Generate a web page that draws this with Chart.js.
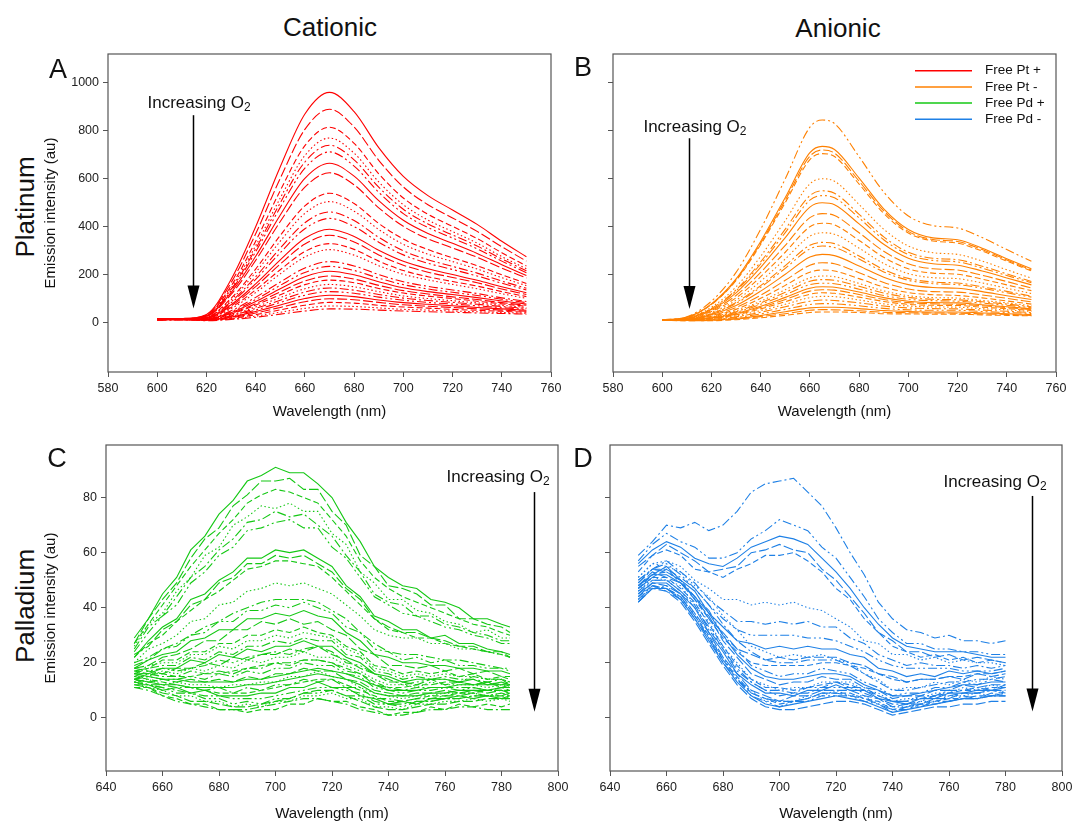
<!DOCTYPE html>
<html>
<head>
<meta charset="utf-8">
<script src="https://cdn.jsdelivr.net/npm/chart.js@4.4.1/dist/chart.umd.min.js"></script>
<style>
  html, body { margin: 0; padding: 0; background: #fff; width: 1072px; height: 825px; overflow: hidden; }
  #fig { position: relative; width: 1072px; height: 825px; font-family: "Liberation Sans", Arial, sans-serif; color: #111; }
  #fig canvas { position: absolute; }
  .lbl { position: absolute; white-space: nowrap; line-height: 1; transform: translate(-50%, -50%); }
  .rot { transform: translate(-50%, -50%) rotate(-90deg); }
</style>
</head>
<body>
<div id="fig">
  <div class="lbl" style="left:330px; top:27px; font-size:26px;">Cationic</div>
  <div class="lbl" style="left:838px; top:28px; font-size:26px;">Anionic</div>
  <div class="lbl rot" style="left:25px; top:207px; font-size:26px;">Platinum</div>
  <div class="lbl rot" style="left:25px; top:606px; font-size:26px;">Palladium</div>

  <canvas id="panelA" width="566" height="390" style="left:0px; top:40px;"></canvas>
  <canvas id="panelB" width="512" height="390" style="left:560px; top:40px;"></canvas>
  <canvas id="panelC" width="576" height="395" style="left:0px; top:430px;"></canvas>
  <canvas id="panelD" width="512" height="395" style="left:572px; top:430px;"></canvas>

  <div class="lbl" style="left:58px; top:69px; font-size:27px;">A</div>
  <div class="lbl" style="left:583px; top:67px; font-size:27px;">B</div>
  <div class="lbl" style="left:57px; top:458px; font-size:27px;">C</div>
  <div class="lbl" style="left:583px; top:458px; font-size:27px;">D</div>
</div>

<script>
// ---------- wavelengths (nm) ----------
const WL_PT_CATIONIC = [600,610,620,630,640,650,660,670,680,690,700,710,720,730,740,750];
const WL_PT_ANIONIC  = [600,610,620,630,640,650,660,665,670,680,690,700,710,720,730,740,750];
const WL_PD_CATIONIC = [650,655,660,665,670,675,680,685,690,695,700,705,710,715,720,725,730,735,740,745,750,755,760,765,770,775,780,783];
const WL_PD_ANIONIC  = [650,655,660,665,670,675,680,685,690,695,700,705,710,715,720,725,730,735,740,745,750,755,760,765,770,775,780];

// ---------- tick values ----------
const X_TICKS_PT = [580,600,620,640,660,680,700,720,740,760];
const X_TICKS_PD = [640,660,680,700,720,740,760,780,800];
const Y_TICKS_PT = [0,200,400,600,800,1000];
const Y_TICKS_PD = [0,20,40,60,80];

// ---------- legend ----------
const LEGEND_NAMES = ['Free Pt +', 'Free Pt -', 'Free Pd +', 'Free Pd -'];

// ---------- A: free Pt porphyrin, cationic (emission spectra, decreasing with O2) ----------
const PT_CATIONIC = [
  [17,18,35,180,400,650,870,960,880,730,610,530,470,410,340,275],
  [16,18,33,167,371,602,806,890,816,677,566,492,437,381,317,257],
  [18,17,31,153,340,551,738,815,748,621,520,452,402,351,292,237],
  [15,17,30,145,321,520,697,770,707,587,492,428,380,332,276,225],
  [16,17,29,139,308,500,670,740,679,565,473,412,366,320,266,217],
  [14,17,28,134,296,481,644,712,653,544,455,397,353,308,257,209],
  [17,16,27,126,277,449,602,665,611,509,427,372,331,289,242,197],
  [15,16,26,118,260,422,565,625,575,479,402,350,312,273,228,187],
  [16,16,23,102,224,364,487,540,497,414,349,305,271,238,200,164],
  [14,15,22,96,210,340,456,505,465,389,327,286,255,224,188,155],
  [17,15,21,88,192,311,417,462,426,356,300,263,235,207,174,144],
  [15,15,21,83,181,292,392,435,401,336,283,248,222,195,165,137],
  [13,15,19,75,162,262,352,390,360,302,256,225,201,177,150,125],
  [16,15,19,70,151,245,328,365,337,283,240,211,189,167,141,118],
  [14,15,18,64,137,221,297,330,306,257,218,192,172,153,130,109],
  [15,14,17,59,126,204,274,305,282,238,202,179,160,142,121,102],
  [13,14,16,50,106,170,228,255,237,201,171,152,137,122,104,89],
  [16,14,15,46,97,156,210,235,218,186,159,141,127,114,98,84],
  [14,14,15,42,89,142,192,215,200,171,146,130,118,105,91,78],
  [12,14,14,39,80,129,174,195,182,156,134,120,108,97,84,73],
  [15,14,14,36,74,117,159,178,167,143,124,111,101,90,79,69],
  [13,14,13,32,66,105,142,160,150,130,112,101,92,83,73,64],
  [14,14,13,29,60,94,128,145,136,118,103,93,85,77,68,60],
  [12,13,12,27,53,85,115,130,123,107,94,85,78,71,63,56],
  [15,13,12,24,47,74,101,115,109,95,84,77,71,64,58,52],
  [13,13,11,21,41,64,88,100,96,85,75,69,64,58,53,48],
  [11,13,11,18,34,54,73,85,82,73,66,61,56,52,48,44],
  [14,13,11,16,28,44,60,70,68,62,56,53,49,46,43,40],
  [12,12,9,14,23,36,49,58,57,53,49,46,44,41,39,36]
];

// ---------- B: free Pt porphyrin, anionic ----------
const PT_ANIONIC = [
  [12,25,90,210,390,600,815,845,830,692,545,445,405,395,355,305,256],
  [12,23,79,183,339,522,709,735,722,603,475,389,354,346,311,267,225],
  [12,23,77,179,332,511,694,720,707,590,466,381,347,339,305,262,220],
  [12,22,76,176,326,501,680,705,693,578,456,374,341,332,299,257,216],
  [11,20,65,150,277,426,579,600,590,493,390,320,292,285,257,221,186],
  [11,19,60,137,254,390,530,550,540,452,358,294,269,263,236,204,172],
  [11,19,58,133,245,376,511,530,521,437,346,284,260,254,228,197,167],
  [11,18,55,125,231,355,482,500,492,412,327,269,246,240,216,187,158],
  [11,17,51,114,210,323,438,455,447,375,298,246,225,220,198,172,145],
  [11,17,47,104,192,294,400,415,408,343,273,225,207,202,182,158,134],
  [11,16,43,94,173,266,361,375,369,311,247,205,188,184,166,144,122],
  [11,15,39,85,155,238,323,335,330,278,222,185,170,166,150,131,111],
  [11,15,37,81,148,227,308,320,314,266,212,177,163,159,144,125,107],
  [11,14,34,72,132,202,274,285,280,237,190,159,147,144,130,113,97],
  [11,13,30,64,115,177,240,250,246,209,168,141,130,128,116,102,87],
  [10,13,27,56,102,156,211,220,216,184,149,126,117,114,104,91,78],
  [10,12,24,50,90,138,187,195,192,164,133,113,105,103,93,83,71],
  [10,12,23,46,83,127,173,180,177,152,124,106,98,96,88,78,67],
  [10,12,21,43,77,117,159,165,163,140,114,98,92,90,82,73,63],
  [10,11,20,39,69,106,144,150,148,128,105,90,84,83,75,67,58],
  [10,11,19,36,64,97,132,138,136,118,97,84,79,77,71,63,55],
  [10,11,17,33,58,88,119,125,123,107,89,77,73,72,65,59,51],
  [10,11,16,29,51,77,105,110,109,95,79,70,66,65,59,54,47],
  [10,10,14,25,44,67,90,95,93,83,70,62,59,58,53,48,43],
  [10,10,13,22,37,56,76,80,79,71,60,54,52,52,47,43,39],
  [10,10,11,18,30,46,62,65,65,59,51,47,45,45,41,38,34],
  [10,9,10,16,26,38,52,55,54,50,44,42,41,40,37,35,31],
  [10,9,9,13,21,31,43,45,45,43,38,37,36,36,33,31,29]
];

// ---------- C: free Pd porphyrin, cationic ----------
const PD_CATIONIC = [
  [29,36,45,51,61,66,74,79,86,88,91,89,89,85,80,71,64,55,51,48,47,43,42,40,36,36,34,33],
  [27,36,43,49,58,65,69,77,81,86,86,87,83,83,75,70,59,55,48,47,45,41,41,36,36,34,33,31],
  [27,34,41,48,55,61,67,72,78,81,83,82,80,78,72,66,57,51,47,44,42,40,38,36,34,33,31,30],
  [26,34,38,46,51,59,62,70,73,77,76,78,75,75,67,63,53,49,43,43,39,38,35,34,31,32,29,29],
  [25,33,37,44,51,55,61,65,71,72,75,73,74,70,66,59,53,45,42,41,37,37,34,33,31,30,28,28],
  [24,31,37,41,49,53,59,62,68,69,71,72,69,69,62,58,51,44,41,38,37,35,33,32,30,29,27,27],
  [22,28,33,36,43,45,50,53,58,58,61,60,61,58,55,48,44,37,35,32,32,29,30,27,27,25,24,23],
  [23,26,32,35,41,43,49,51,56,56,59,58,59,56,53,47,43,36,33,31,31,29,28,26,26,24,24,22],
  [22,27,30,35,39,43,46,50,54,55,57,57,56,55,51,46,41,36,32,31,29,29,27,26,25,24,23,22],
  [20,25,27,30,35,36,41,42,46,47,49,48,49,47,45,41,37,32,30,29,29,27,27,25,25,24,23,22],
  [20,22,25,27,30,33,35,38,40,42,43,43,43,42,39,36,31,27,24,23,23,22,21,21,20,19,18,18],
  [19,21,25,26,30,31,35,35,39,39,41,40,42,40,38,33,31,25,24,21,22,20,21,19,19,18,18,17],
  [18,21,23,24,28,29,32,32,36,36,38,37,39,37,36,31,28,23,22,20,20,19,19,18,18,17,17,16],
  [18,19,22,23,25,28,28,32,32,35,34,36,34,35,32,30,25,23,19,19,18,19,17,18,16,17,15,15],
  [17,18,21,21,24,24,27,27,30,30,32,31,33,31,30,26,24,19,18,16,17,16,17,15,16,14,15,14],
  [16,19,20,20,23,23,26,25,28,28,30,29,31,30,29,25,23,18,17,15,16,15,16,15,15,14,14,13],
  [16,18,19,19,22,21,24,23,26,26,28,27,29,28,28,23,22,17,16,14,15,14,15,14,14,13,14,12],
  [18,17,18,17,18,19,21,20,22,23,24,23,25,26,24,20,19,16,14,12,13,14,14,13,15,14,14,13],
  [16,16,18,18,21,20,23,22,25,24,26,26,28,26,26,22,20,16,15,13,14,14,14,13,14,12,13,12],
  [15,17,16,18,18,20,19,22,21,23,23,25,24,26,23,21,18,16,13,13,12,14,12,13,12,13,11,12],
  [17,16,16,15,15,16,16,17,18,19,20,19,21,21,20,18,16,13,11,11,12,12,13,13,12,13,12,13],
  [15,15,17,16,18,17,19,18,21,20,22,22,24,22,22,19,17,14,12,12,11,13,12,12,12,11,12,11],
  [14,16,15,15,17,16,17,16,18,18,20,20,21,21,20,17,16,12,11,10,11,11,11,11,11,10,11,10],
  [14,15,14,14,15,14,16,15,17,16,18,18,20,19,19,16,15,11,10,9,10,10,11,10,11,10,10,9],
  [14,13,12,12,11,11,11,11,12,12,13,14,15,16,15,14,12,9,8,8,8,9,9,10,10,10,11,11],
  [14,13,14,13,14,13,14,13,15,14,16,16,18,17,17,14,13,10,9,8,9,9,10,9,10,9,10,9],
  [15,14,13,12,11,10,9,9,9,10,11,12,13,14,14,12,10,8,6,6,7,8,8,9,9,10,10,10],
  [13,14,12,13,12,12,11,12,12,13,13,15,15,17,15,14,11,9,8,7,8,8,9,9,9,8,9,8],
  [13,12,12,11,11,10,11,9,11,10,12,12,14,13,14,11,11,7,7,6,7,7,8,8,9,8,8,7],
  [13,12,11,10,9,8,8,7,7,7,8,9,10,11,11,10,9,6,5,5,6,6,7,7,8,8,8,9],
  [12,12,10,11,9,10,8,8,8,9,9,11,11,13,11,11,8,7,5,6,5,7,7,8,7,8,7,8],
  [12,11,9,8,6,6,5,4,4,5,6,7,9,10,10,8,6,4,3,3,4,5,5,6,6,7,7,7],
  [11,11,8,7,5,5,3,3,2,3,3,5,5,7,6,6,4,3,1,2,2,4,3,5,4,5,4,5],
  [13,11,10,8,8,6,6,4,5,4,6,6,8,8,9,7,7,4,4,3,5,5,6,6,7,6,7,6],
  [11,10,8,6,5,4,3,3,3,4,5,6,7,7,6,5,3,2,1,1,2,3,3,4,4,3,3,3],
  [14,12,11,9,9,7,7,5,6,5,7,7,9,9,10,8,8,5,5,4,6,6,7,7,8,8,9,8],
  [16,15,14,14,13,13,13,13,14,14,15,16,17,18,17,16,14,12,10,10,10,11,11,12,12,12,12,12]
];

// ---------- D: free Pd porphyrin, anionic ----------
const PD_ANIONIC = [
  [59,64,70,69,71,68,70,75,82,85,86,87,82,77,69,60,52,42,36,32,31,29,30,28,28,27,28],
  [57,63,67,64,62,58,58,60,65,68,72,70,68,62,58,51,44,36,31,27,27,25,25,24,24,23,23],
  [56,61,64,62,58,56,55,58,62,64,66,65,63,58,53,47,40,34,29,26,25,24,24,24,23,22,22],
  [55,59,63,60,57,53,54,55,60,61,63,61,60,54,50,44,38,31,28,24,24,22,23,21,22,21,20],
  [53,59,61,59,54,53,51,54,56,59,59,60,57,53,47,43,36,31,26,24,22,23,21,22,20,21,20],
  [51,56,57,55,50,47,43,43,41,42,41,42,40,39,36,33,28,27,23,23,21,22,20,21,20,20,19],
  [50,54,57,53,49,43,39,35,35,34,35,34,35,33,33,29,27,23,21,19,20,19,19,18,19,18,19],
  [49,54,56,52,47,41,36,32,30,30,30,30,29,29,28,26,24,21,19,18,18,18,18,17,17,17,18],
  [48,52,55,50,46,38,33,28,27,25,26,25,26,25,25,23,22,18,17,15,16,15,17,16,17,16,17],
  [47,51,54,49,44,36,31,25,23,21,22,21,22,22,22,20,19,16,15,13,14,14,15,14,16,15,16],
  [47,52,53,50,43,36,29,24,20,19,19,19,19,20,20,19,18,16,14,13,14,14,15,15,16,16,17],
  [51,56,55,53,48,44,37,32,26,24,22,23,22,23,21,20,16,14,10,11,11,13,12,14,13,15,14],
  [50,54,54,51,47,41,34,28,24,21,20,20,21,21,21,19,16,13,10,10,11,12,13,13,14,14,15],
  [49,54,53,50,44,39,30,25,19,17,15,16,16,18,17,16,13,11,8,9,9,11,11,13,12,14,13],
  [48,52,52,49,44,38,30,23,18,15,14,14,15,16,16,15,12,10,8,8,9,10,11,12,12,13,13],
  [48,53,51,49,43,37,28,22,16,14,12,13,13,15,14,14,11,10,7,8,8,10,10,12,11,12,12],
  [47,51,51,47,42,34,26,19,14,11,11,10,11,12,13,12,10,8,6,6,7,8,9,10,10,11,11],
  [46,51,50,48,41,35,26,20,14,12,10,11,11,13,13,13,10,9,6,7,7,9,9,11,10,12,11],
  [46,50,50,46,41,32,25,17,13,10,10,9,11,11,13,11,11,8,6,6,8,8,10,10,11,10,12],
  [45,50,50,46,40,33,25,18,13,10,8,9,9,11,11,11,9,7,5,5,6,8,8,9,9,10,10],
  [45,49,49,45,40,31,24,16,12,9,9,8,10,10,12,10,10,7,6,5,7,7,9,9,10,10,11],
  [44,49,48,45,38,31,22,16,10,8,6,8,8,10,10,10,8,7,4,5,5,7,7,9,9,10,9],
  [44,48,47,44,37,30,21,15,9,7,5,6,7,9,9,9,7,6,3,4,5,6,7,7,8,8,9],
  [43,47,48,43,38,29,22,14,10,6,6,6,8,8,10,8,8,5,4,4,6,6,8,8,9,8,10],
  [43,48,47,44,37,29,21,14,9,7,6,6,7,9,9,8,7,5,3,3,5,5,6,7,7,8,8],
  [42,48,46,43,36,29,20,14,8,6,4,6,6,8,8,8,6,5,2,4,4,6,6,8,7,9,8],
  [42,47,47,43,36,28,20,13,8,5,4,5,6,7,8,7,6,4,2,3,4,5,6,7,7,8,8],
  [42,47,46,42,35,27,19,12,7,4,3,3,4,5,6,6,5,3,1,2,3,4,4,5,5,6,6]
];

// ---------- styling ----------
const FONT = '"Liberation Sans", Arial, sans-serif';
const COLORS = ['rgb(255,0,0)', 'rgb(255,128,0)', 'rgb(20,200,20)', 'rgb(30,128,230)'];
const DASHES = [[], [10, 3], [6, 3], [1.5, 2.5], [9, 3, 2, 3], [9, 3, 2, 3, 2, 3]];

Chart.defaults.font.family = FONT;

function buildSets(wl, curves, color, styleStart, smooth) {
  return curves.map((vals, i) => ({
    data: vals.map((v, j) => ({ x: wl[j], y: v })),
    borderColor: color,
    borderWidth: 1.1,
    borderDash: DASHES[(i + styleStart) % DASHES.length],
    pointRadius: 0,
    fill: false,
    tension: smooth ? 0.4 : 0,
    cubicInterpolationMode: smooth ? 'monotone' : 'default'
  }));
}

// frame, "Increasing O2" arrow and the legend, drawn over the curves
const panelDecor = {
  id: 'panelDecor',
  afterDatasetsDraw(chart, args, opts) {
    const { ctx, chartArea: a, scales: { x, y } } = chart;
    ctx.save();
    ctx.strokeStyle = '#555';
    ctx.lineWidth = 1.2;
    ctx.setLineDash([]);
    ctx.strokeRect(a.left, a.top, a.right - a.left, a.bottom - a.top);

    if (opts.arrow) {
      const ax = Math.round(x.getPixelForValue(opts.arrow.x)) + 0.5;
      const y0 = y.getPixelForValue(opts.arrow.yTop);
      const y1 = y.getPixelForValue(opts.arrow.yTip);
      ctx.strokeStyle = '#000';
      ctx.lineWidth = 1.5;
      ctx.beginPath();
      ctx.moveTo(ax, y0);
      ctx.lineTo(ax, y1 - 20);
      ctx.stroke();
      ctx.fillStyle = '#000';
      ctx.beginPath();
      ctx.moveTo(ax - 6, y1 - 23);
      ctx.lineTo(ax + 6, y1 - 23);
      ctx.lineTo(ax, y1);
      ctx.closePath();
      ctx.fill();
    }

    if (opts.note) {
      const cx = x.getPixelForValue(opts.note.x);
      const by = y.getPixelForValue(opts.note.y);
      ctx.fillStyle = '#111';
      ctx.textBaseline = 'alphabetic';
      ctx.textAlign = 'left';
      ctx.font = '17px ' + FONT;
      const main = 'Increasing O';
      const w1 = ctx.measureText(main).width;
      ctx.font = '12px ' + FONT;
      const w2 = ctx.measureText('2').width;
      const sx = cx - (w1 + w2) / 2;
      ctx.font = '17px ' + FONT;
      ctx.fillText(main, sx, by);
      ctx.font = '12px ' + FONT;
      ctx.fillText('2', sx + w1, by + 3);
    }

    if (opts.legend) {
      ctx.font = '13.5px ' + FONT;
      ctx.textBaseline = 'middle';
      ctx.textAlign = 'left';
      LEGEND_NAMES.forEach((name, i) => {
        const ry = a.top + 16.7 + i * 16.2;
        ctx.strokeStyle = COLORS[i];
        ctx.lineWidth = 1.5;
        ctx.beginPath();
        ctx.moveTo(a.right - 141, ry);
        ctx.lineTo(a.right - 84, ry);
        ctx.stroke();
        ctx.fillStyle = '#111';
        ctx.fillText(name, a.right - 71, ry);
      });
    }
    ctx.restore();
  }
};

function panel(id, o) {
  const tickFont = { family: FONT, size: 12.5 };
  const titleFont = { family: FONT, size: 15 };
  return new Chart(document.getElementById(id), {
    type: 'line',
    data: { datasets: o.datasets },
    options: {
      responsive: false,
      animation: false,
      events: [],
      devicePixelRatio: 1,
      layout: { padding: o.pad },
      plugins: { legend: { display: false }, tooltip: { enabled: false }, panelDecor: o.decor },
      scales: {
        x: {
          type: 'linear', position: 'bottom', min: o.xMin, max: o.xMax,
          afterBuildTicks: s => { s.ticks = o.xTicks.map(v => ({ value: v })); },
          afterFit: s => { s.height = o.xH; },
          ticks: { autoSkip: false, maxRotation: 0, padding: 4, color: '#222', font: tickFont, callback: v => String(v) },
          grid: { drawOnChartArea: false, drawTicks: true, tickLength: 5, color: '#555', lineWidth: 1 },
          border: { display: false },
          title: { display: true, text: 'Wavelength (nm)', color: '#111', font: titleFont, padding: 0 }
        },
        y: {
          type: 'linear', position: 'left', min: o.yMin, max: o.yMax,
          afterBuildTicks: s => { s.ticks = o.yTicks.map(v => ({ value: v })); },
          afterFit: s => { s.width = o.yW; },
          ticks: { display: o.yLabels, padding: 4, color: '#222', font: tickFont, callback: v => String(v) },
          grid: { drawOnChartArea: false, drawTicks: true, tickLength: 5, color: '#555', lineWidth: 1 },
          border: { display: false },
          title: { display: o.yLabels, text: 'Emission intensity (au)', color: '#111', font: titleFont, padding: 0 }
        }
      }
    },
    plugins: [panelDecor]
  });
}

panel('panelA', {
  datasets: buildSets(WL_PT_CATIONIC, PT_CATIONIC, COLORS[0], 0, true),
  pad: { left: 42, top: 14, right: 15, bottom: 9 }, yW: 66, xH: 49,
  xMin: 580, xMax: 760, yMin: -205, yMax: 1120,
  xTicks: X_TICKS_PT, yTicks: Y_TICKS_PT, yLabels: true,
  decor: { arrow: { x: 614.5, yTop: 865, yTip: 60 }, note: { x: 617, y: 893 } }
});

panel('panelB', {
  datasets: buildSets(WL_PT_ANIONIC, PT_ANIONIC, COLORS[1], 5, true),
  pad: { left: 43, top: 14, right: 16, bottom: 9 }, yW: 10, xH: 49,
  xMin: 580, xMax: 760, yMin: -205, yMax: 1120,
  xTicks: X_TICKS_PT, yTicks: Y_TICKS_PT, yLabels: false,
  decor: { arrow: { x: 610.9, yTop: 769, yTip: 57 }, note: { x: 613.3, y: 797 }, legend: true }
});

panel('panelC', {
  datasets: buildSets(WL_PD_CATIONIC, PD_CATIONIC, COLORS[2], 0, false),
  pad: { left: 42, top: 15, right: 18, bottom: 2 }, yW: 64, xH: 52,
  xMin: 640, xMax: 800, yMin: -19.3, yMax: 99.1,
  xTicks: X_TICKS_PD, yTicks: Y_TICKS_PD, yLabels: true,
  decor: { arrow: { x: 791.5, yTop: 82, yTip: 2.2 }, note: { x: 778.8, y: 85.7 } }
});

panel('panelD', {
  datasets: buildSets(WL_PD_ANIONIC, PD_ANIONIC, COLORS[3], 4, false),
  pad: { left: 28, top: 15, right: 22, bottom: 2 }, yW: 10, xH: 52,
  xMin: 640, xMax: 800, yMin: -19.3, yMax: 99.1,
  xTicks: X_TICKS_PD, yTicks: Y_TICKS_PD, yLabels: false,
  decor: { arrow: { x: 789.3, yTop: 80.6, yTip: 2.3 }, note: { x: 776.3, y: 83.9 } }
});
</script>
</body>
</html>
